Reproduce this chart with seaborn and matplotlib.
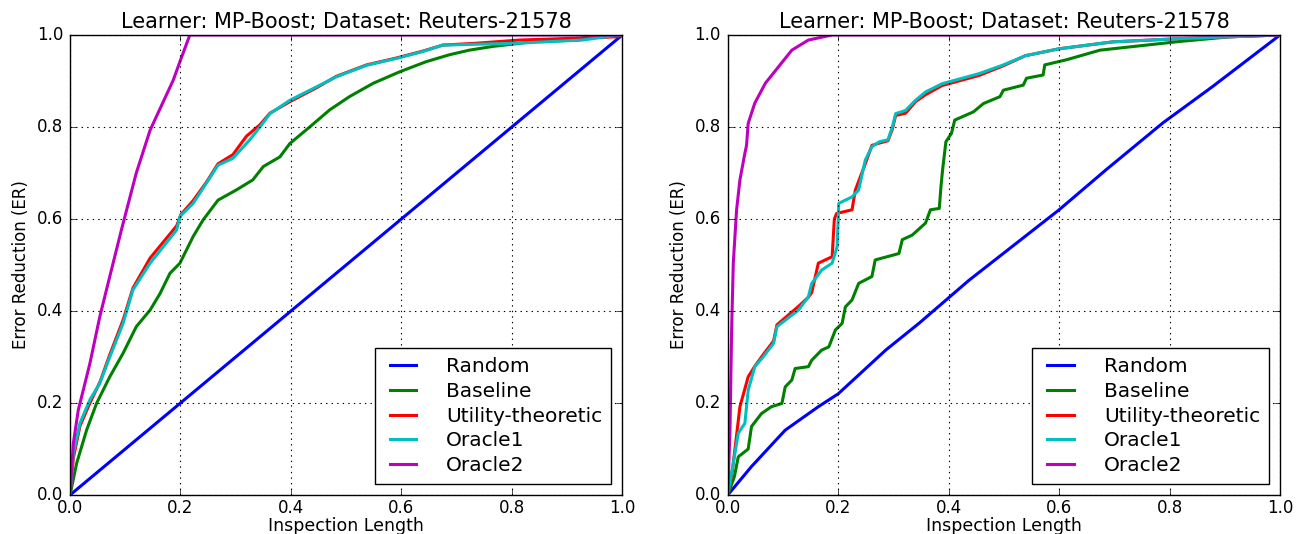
import numpy as np
import pandas as pd
import matplotlib
matplotlib.use('Agg')
import matplotlib.pyplot as plt
import seaborn as sns

# series names and colours (old matplotlib b, g, r, c, m)
names = ['Random', 'Baseline', 'Utility-theoretic', 'Oracle1', 'Oracle2']
colors = ['#0000ff', '#008000', '#ff0000', '#00bfbf', '#bf00bf']
title = 'Learner: MP-Boost; Dataset: Reuters-21578'

# ---- left panel ----
l_rand_x = [0.0, 1.0]
l_rand_y = [0.0, 1.0]

l_base_x = [0, 0.012, 0.03, 0.048, 0.072, 0.096, 0.12, 0.145, 0.163, 0.181, 0.199, 0.223, 0.241,
            0.268, 0.301, 0.331, 0.350, 0.380, 0.398, 0.434, 0.47, 0.506, 0.549, 0.597, 0.645,
            0.687, 0.723, 0.765, 0.843, 0.922, 0.93, 0.97, 1.0]
l_base_y = [0, 0.069, 0.141, 0.199, 0.257, 0.308, 0.366, 0.402, 0.438, 0.482, 0.504, 0.562, 0.598,
            0.641, 0.663, 0.685, 0.714, 0.735, 0.764, 0.80, 0.837, 0.866, 0.895, 0.92, 0.942,
            0.957, 0.967, 0.975, 0.986, 0.989, 0.996, 0.996, 1.0]

l_util_x = [0, 0.006, 0.018, 0.036, 0.054, 0.072, 0.096, 0.114, 0.145, 0.169, 0.193, 0.201, 0.223,
            0.247, 0.268, 0.295, 0.3195, 0.344, 0.362, 0.398, 0.446, 0.482, 0.537, 0.591, 0.639,
            0.675, 0.735, 0.814, 0.99, 1.0]
l_util_y = [0, 0.08, 0.15, 0.20, 0.245, 0.305, 0.38, 0.45, 0.515, 0.55, 0.585, 0.61, 0.64,
            0.68, 0.72, 0.74, 0.78, 0.805, 0.83, 0.855, 0.885, 0.91, 0.935, 0.95, 0.965,
            0.978, 0.982, 0.989, 0.996, 1.0]

l_orc1_x = [0, 0.006, 0.018, 0.036, 0.054, 0.072, 0.096, 0.114, 0.145, 0.169, 0.193, 0.199, 0.223,
            0.247, 0.268, 0.295, 0.3255, 0.344, 0.362, 0.398, 0.446, 0.482, 0.537, 0.591, 0.639,
            0.675, 0.808, 0.928, 0.995, 1.0]
l_orc1_y = [0, 0.09, 0.156, 0.207, 0.243, 0.30, 0.373, 0.446, 0.504, 0.54, 0.576, 0.605, 0.634,
            0.678, 0.717, 0.732, 0.772, 0.80, 0.829, 0.858, 0.887, 0.909, 0.934, 0.949, 0.964,
            0.978, 0.982, 0.989, 1.0, 1.0]

l_orc2_x = [0, 0.006, 0.015, 0.024, 0.036, 0.054, 0.072, 0.093, 0.12, 0.145, 0.187, 0.199, 0.217, 1.0]
l_orc2_y = [0, 0.112, 0.185, 0.228, 0.286, 0.388, 0.475, 0.576, 0.70, 0.793, 0.902, 0.942, 1.0, 1.0]

# ---- right panel ----
r_rand_x = [0, 0.043, 0.104, 0.164, 0.2, 0.286, 0.346, 0.437, 0.6, 0.685, 0.788, 0.878, 1.0]
r_rand_y = [0, 0.062, 0.141, 0.192, 0.22, 0.315, 0.373, 0.467, 0.62, 0.707, 0.809, 0.888, 1.0]

r_base_x = [0, 0.012, 0.019, 0.037, 0.043, 0.061, 0.079, 0.098, 0.104, 0.116, 0.122, 0.146, 0.152,
            0.17, 0.183, 0.195, 0.207, 0.213, 0.225, 0.237, 0.261, 0.267, 0.31, 0.316, 0.334,
            0.358, 0.367, 0.383, 0.386, 0.389, 0.395, 0.405, 0.411, 0.445, 0.463, 0.493, 0.499,
            0.535, 0.541, 0.571, 0.574, 0.613, 0.674, 0.758, 0.819, 0.909, 1.0]
r_base_y = [0, 0.04, 0.083, 0.10, 0.149, 0.177, 0.192, 0.199, 0.235, 0.25, 0.275, 0.279, 0.293,
            0.315, 0.322, 0.359, 0.373, 0.409, 0.424, 0.46, 0.475, 0.511, 0.525, 0.555, 0.565,
            0.591, 0.62, 0.623, 0.67, 0.707, 0.768, 0.786, 0.815, 0.833, 0.851, 0.866, 0.88,
            0.891, 0.906, 0.913, 0.935, 0.946, 0.967, 0.978, 0.986, 0.996, 1.0]

r_util_x = [0, 0.008, 0.015, 0.022, 0.037, 0.049, 0.064, 0.083, 0.089, 0.128, 0.146, 0.152, 0.164,
            0.189, 0.193, 0.197, 0.225, 0.231, 0.249, 0.261, 0.2745, 0.29, 0.298, 0.304, 0.322,
            0.34, 0.358, 0.388, 0.455, 0.497, 0.539, 0.6, 0.697, 0.817, 1.0]
r_util_y = [0, 0.05, 0.12, 0.192, 0.257, 0.28, 0.305, 0.335, 0.37, 0.41, 0.43, 0.44, 0.504,
            0.518, 0.60, 0.612, 0.62, 0.663, 0.72, 0.76, 0.765, 0.77, 0.795, 0.825, 0.83,
            0.855, 0.87, 0.89, 0.912, 0.932, 0.955, 0.97, 0.985, 0.992, 1.0]

r_orc1_x = [0, 0.01, 0.019, 0.031, 0.037, 0.049, 0.064, 0.083, 0.089, 0.128, 0.146, 0.152, 0.17,
            0.189, 0.198, 0.201, 0.225, 0.237, 0.249, 0.261, 0.2745, 0.29, 0.298, 0.304, 0.322,
            0.34, 0.358, 0.388, 0.455, 0.497, 0.539, 0.6, 0.697, 0.817, 1.0]
r_orc1_y = [0, 0.069, 0.134, 0.156, 0.228, 0.279, 0.30, 0.33, 0.366, 0.402, 0.431, 0.46, 0.489,
            0.504, 0.54, 0.634, 0.648, 0.663, 0.728, 0.757, 0.768, 0.772, 0.80, 0.829, 0.836,
            0.858, 0.876, 0.894, 0.916, 0.934, 0.955, 0.97, 0.985, 0.992, 1.0]

r_orc2_x = [0, 0.004, 0.007, 0.01, 0.016, 0.022, 0.031, 0.034, 0.037, 0.049, 0.068, 0.092, 0.116,
            0.146, 0.189, 1.0]
r_orc2_y = [0, 0.141, 0.359, 0.504, 0.62, 0.685, 0.743, 0.76, 0.808, 0.852, 0.895, 0.931, 0.967,
            0.989, 1.0, 1.0]

panels = [
    [(l_rand_x, l_rand_y), (l_base_x, l_base_y), (l_util_x, l_util_y), (l_orc1_x, l_orc1_y), (l_orc2_x, l_orc2_y)],
    [(r_rand_x, r_rand_y), (r_base_x, r_base_y), (r_util_x, r_util_y), (r_orc1_x, r_orc1_y), (r_orc2_x, r_orc2_y)],
]

plt.style.use('classic')
plt.rcParams['figure.facecolor'] = 'white'
plt.rcParams['savefig.facecolor'] = 'white'
plt.rcParams['font.family'] = ['DejaVu Sans']

fig, axes = plt.subplots(1, 2, figsize=(12.99, 5.34), dpi=100)
fig.subplots_adjust(left=0.0539, right=0.9854, bottom=0.073, top=0.9345, wspace=0.191)

for ax, series in zip(axes, panels):
    frames = []
    for name, (xs, ys) in zip(names, series):
        frames.append(pd.DataFrame({'x': xs, 'y': ys, 'method': name}))
    df = pd.concat(frames, ignore_index=True)
    sns.lineplot(data=df, x='x', y='y', hue='method', hue_order=names, palette=colors,
                 estimator=None, sort=False, linewidth=2.2, legend=False, ax=ax)
    ax.set_xlim(0, 1)
    ax.set_ylim(0, 1)
    ax.set_xticks(np.arange(0, 1.01, 0.2))
    ax.set_yticks(np.arange(0, 1.01, 0.2))
    ax.tick_params(labelsize=12)
    ax.tick_params(axis='x', pad=3)
    ax.tick_params(axis='y', pad=5)
    ax.grid(True, color='k', linestyle=':', linewidth=0.8)
    ax.set_title(title, fontsize=15, pad=5)
    ax.set_xlabel('Inspection Length', fontsize=12.5, labelpad=0)
    ax.set_ylabel('Error Reduction (ER)', fontsize=12, labelpad=5)
    leg = ax.legend(ax.lines, names, loc='lower right', fontsize=14.5, frameon=True,
                    fancybox=False, framealpha=1, edgecolor='k', handlelength=1.9,
                    handletextpad=1.2, labelspacing=0.28, borderpad=0.45, borderaxespad=0.55)
    leg.get_frame().set_linewidth(1.0)

fig.savefig('out.png', dpi=100)
